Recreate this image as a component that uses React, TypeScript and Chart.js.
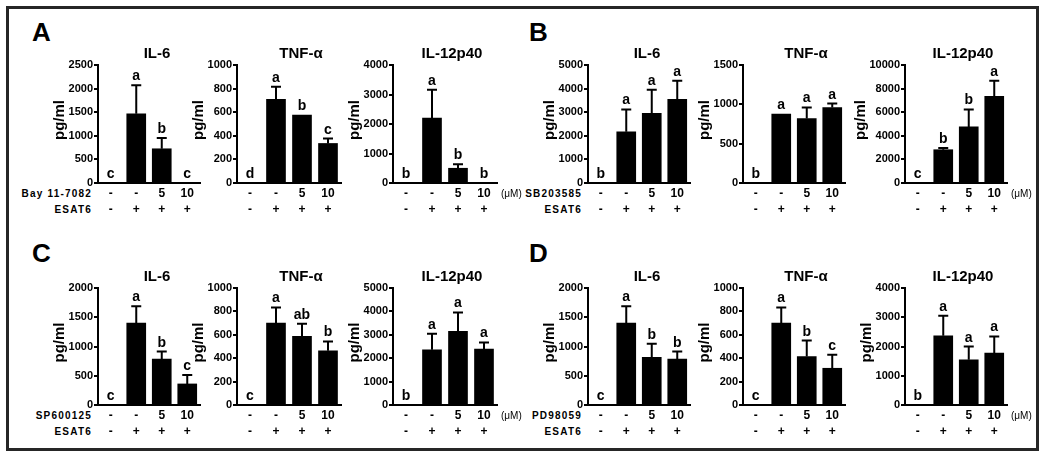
import React, { useEffect, useRef } from 'react';
import { Chart, registerables } from 'chart.js';

Chart.register(...registerables);

const FONT = "'Liberation Sans', Arial, Helvetica, sans-serif";

// ---- shared categories ----
const doseLabels = ['-', '-', '5', '10'];
const esat6Labels = ['-', '+', '+', '+'];
const cytokines = ['IL-6', 'TNF-α', 'IL-12p40'];
const inhibitors = ['Bay 11-7082', 'SB203585', 'SP600125', 'PD98059'];
const panelLetters = ['A', 'B', 'C', 'D'];

// ---- Panel A (Bay 11-7082) ----
const aMeans = [[0, 1465, 725, 0], [0, 710, 575, 335], [0, 2200, 500, 0]];
const aErrors = [[0, 605, 230, 0], [0, 105, 0, 42], [0, 960, 135, 0]];
const aLetters = [['c', 'a', 'b', 'c'], ['d', 'a', 'b', 'c'], ['b', 'a', 'b', 'b']];
const aMax = [2500, 1000, 4000];
const aStep = [500, 200, 1000];

// ---- Panel B (SB203585) ----
const bMeans = [[0, 2170, 2955, 3545], [0, 875, 820, 960], [0, 2820, 4750, 7350]];
const bErrors = [[0, 945, 1000, 785], [0, 0, 140, 50], [0, 140, 1480, 1310]];
const bLetters = [['b', 'a', 'a', 'a'], ['b', 'a', 'a', 'a'], ['c', 'b', 'b', 'a']];
const bMax = [5000, 1500, 10000];
const bStep = [1000, 500, 2000];

// ---- Panel C (SP600125) ----
const cMeans = [[0, 1400, 783, 360], [0, 700, 586, 463], [0, 2357, 3143, 2386]];
const cErrors = [[0, 286, 131, 154], [0, 134, 108, 80], [0, 686, 814, 285]];
const cLetters = [['c', 'a', 'b', 'c'], ['c', 'a', 'ab', 'b'], ['b', 'a', 'a', 'a']];
const cMax = [2000, 1000, 5000];
const cStep = [500, 200, 1000];

// ---- Panel D (PD98059) ----
const dMeans = [[0, 1400, 817, 783], [0, 700, 414, 314], [0, 2366, 1543, 1771]];
const dErrors = [[0, 286, 229, 131], [0, 134, 137, 115], [0, 685, 457, 572]];
const dLetters = [['c', 'a', 'b', 'b'], ['c', 'a', 'b', 'c'], ['b', 'a', 'a', 'a']];
const dMax = [2000, 1000, 4000];
const dStep = [500, 200, 1000];

const panelData = [
  { means: aMeans, errors: aErrors, letters: aLetters, max: aMax, step: aStep },
  { means: bMeans, errors: bErrors, letters: bLetters, max: bMax, step: bStep },
  { means: cMeans, errors: cErrors, letters: cLetters, max: cMax, step: cStep },
  { means: dMeans, errors: dErrors, letters: dLetters, max: dMax, step: dStep },
];

// ---- layout (pixels) ----
const colAxisX = [[98, 237, 393], [588, 743, 905]];
const colWidth = [[102, 104, 104], [102, 102, 102]];
const titleShift = [8, 12, 7];
const rowTop = [65, 288];
const rowZero = [183, 405];
const Y_AXIS_W = 70;
const PAD_TOP = 30;
const PAD_RIGHT = 30;
const X_AXIS_H = 40;

type MiniProps = {
  means: number[];
  errors: number[];
  letters: string[];
  title: string;
  yMax: number;
  yStep: number;
  axisX: number;
  plotW: number;
  top: number;
  zero: number;
  shift: number;
  showUnit: boolean;
};

function MiniChart(p: MiniProps) {
  const ref = useRef<HTMLCanvasElement | null>(null);
  const plotH = p.zero - p.top;
  const cw = Y_AXIS_W + p.plotW + PAD_RIGHT;
  const ch = PAD_TOP + plotH + X_AXIS_H + 2;

  useEffect(() => {
    if (!ref.current) return;
    const annot = {
      id: 'annot',
      afterDraw(chart: any) {
        const { ctx, chartArea } = chart;
        const meta = chart.getDatasetMeta(0);
        const ys = chart.scales.y;
        ctx.save();
        ctx.strokeStyle = '#000';
        ctx.fillStyle = '#000';
        ctx.lineWidth = 2;
        meta.data.forEach((bar: any, i: number) => {
          const m = p.means[i];
          const e = p.errors[i];
          const yBar = ys.getPixelForValue(m);
          const yTop = ys.getPixelForValue(m + e);
          if (e > 0) {
            ctx.beginPath();
            ctx.moveTo(bar.x, yBar);
            ctx.lineTo(bar.x, yTop);
            ctx.moveTo(bar.x - 5, yTop);
            ctx.lineTo(bar.x + 5, yTop);
            ctx.stroke();
          }
          ctx.font = `bold 14px ${FONT}`;
          ctx.textAlign = 'center';
          ctx.textBaseline = 'alphabetic';
          ctx.fillText(p.letters[i], bar.x, yTop - 5);
        });
        // title
        ctx.font = `bold 15px ${FONT}`;
        ctx.textAlign = 'center';
        ctx.textBaseline = 'alphabetic';
        ctx.fillText(p.title, (chartArea.left + chartArea.right) / 2 + p.shift, chartArea.top - 7);
        // y axis title
        ctx.font = `bold 11px ${FONT}`;
        const tw = Math.max(...ys.ticks.map((t: any) => ctx.measureText(String(t.value)).width));
        const px = chartArea.left - 5 - tw - 9;
        ctx.save();
        ctx.translate(px, (chartArea.top + chartArea.bottom) / 2 - 4);
        ctx.rotate(-Math.PI / 2);
        ctx.font = `bold 15px ${FONT}`;
        ctx.textAlign = 'center';
        ctx.textBaseline = 'middle';
        ctx.fillText('pg/ml', 0, 0);
        ctx.restore();
        if (p.showUnit) {
          ctx.font = `10px ${FONT}`;
          ctx.textAlign = 'left';
          ctx.textBaseline = 'middle';
          ctx.fillText('(μM)', chartArea.right + 4, chartArea.bottom + 11);
        }
        ctx.restore();
      },
    };

    const chart = new Chart(ref.current, {
      type: 'bar',
      data: {
        labels: doseLabels.map((d, i) => [d, esat6Labels[i]]),
        datasets: [
          {
            data: p.means,
            backgroundColor: '#000',
            borderWidth: 0,
            barThickness: 19,
          },
        ],
      },
      options: {
        responsive: false,
        animation: false,
        events: [],
        layout: { padding: { top: PAD_TOP, right: PAD_RIGHT, bottom: 2, left: 0 } },
        plugins: {
          legend: { display: false },
          title: { display: false },
          tooltip: { enabled: false },
        },
        scales: {
          x: {
            grid: { display: false, drawTicks: false },
            border: { display: true, color: '#000', width: 2 },
            ticks: {
              color: '#000',
              font: { family: FONT, size: 12, weight: 'bold', lineHeight: '16px' },
              padding: 3,
              maxRotation: 0,
              minRotation: 0,
              autoSkip: false,
            },
            afterFit: (s: any) => {
              s.height = X_AXIS_H;
            },
          },
          y: {
            min: 0,
            max: p.yMax,
            grid: {
              display: true,
              drawOnChartArea: false,
              drawTicks: true,
              tickLength: 4,
              color: '#000',
              lineWidth: 2,
            },
            border: { display: true, color: '#000', width: 2 },
            ticks: {
              stepSize: p.yStep,
              color: '#000',
              font: { family: FONT, size: 11, weight: 'bold' },
              padding: 1,
              callback: (v: any) => String(v),
            },
            afterFit: (s: any) => {
              s.width = Y_AXIS_W;
            },
          },
        },
      } as any,
      plugins: [annot],
    });
    return () => chart.destroy();
  }, []);

  return (
    <canvas
      ref={ref}
      width={cw}
      height={ch}
      style={{
        position: 'absolute',
        left: p.axisX - Y_AXIS_W,
        top: p.top - PAD_TOP,
        width: cw,
        height: ch,
      }}
    />
  );
}

export default function App() {
  const charts: React.ReactNode[] = [];
  const labels: React.ReactNode[] = [];
  panelData.forEach((pd, pi) => {
    const row = pi < 2 ? 0 : 1;
    const grp = pi % 2;
    const top = rowTop[row];
    const zero = rowZero[row];
    for (let c = 0; c < 3; c++) {
      charts.push(
        <MiniChart
          key={`c${pi}-${c}`}
          means={pd.means[c]}
          errors={pd.errors[c]}
          letters={pd.letters[c]}
          title={cytokines[c]}
          yMax={pd.max[c]}
          yStep={pd.step[c]}
          axisX={colAxisX[grp][c]}
          plotW={colWidth[grp][c]}
          top={top}
          zero={zero}
          shift={titleShift[c]}
          showUnit={c === 2}
        />
      );
    }
    const rightEdge = colAxisX[grp][0] - 6;
    const rowStyle: React.CSSProperties = {
      position: 'absolute',
      width: 120,
      left: rightEdge - 120,
      textAlign: 'right',
      fontFamily: FONT,
      fontWeight: 'bold',
      fontSize: 10,
      lineHeight: '12px',
      letterSpacing: '1.2px',
      color: '#000',
      whiteSpace: 'nowrap',
    };
    labels.push(
      <div key={`r1-${pi}`} style={{ ...rowStyle, top: zero + 11 - 6 }}>
        {inhibitors[pi]}
      </div>
    );
    labels.push(
      <div key={`r2-${pi}`} style={{ ...rowStyle, top: zero + 27 - 6 }}>
        ESAT6
      </div>
    );
    labels.push(
      <div
        key={`L-${pi}`}
        style={{
          position: 'absolute',
          left: grp === 0 ? 32 : 529,
          top: row === 0 ? 19 : 240,
          fontFamily: FONT,
          fontWeight: 'bold',
          fontSize: 26,
          lineHeight: '26px',
          color: '#000',
        }}
      >
        {panelLetters[pi]}
      </div>
    );
  });

  return (
    <div
      style={{
        position: 'absolute',
        left: 0,
        top: 0,
        width: 1046,
        height: 459,
        background: '#fff',
        overflow: 'hidden',
      }}
    >
      <div
        style={{
          position: 'absolute',
          left: 6,
          top: 6,
          width: 1033,
          height: 445,
          border: '3px solid #262626',
          boxSizing: 'border-box',
        }}
      />
      {labels}
      {charts}
    </div>
  );
}
